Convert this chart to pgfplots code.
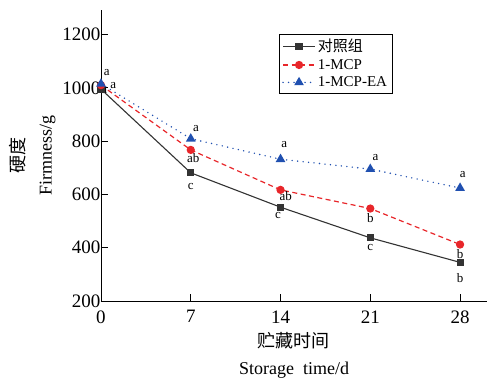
\documentclass[border=0pt]{standalone}
\usepackage{pgfplots}
\pgfplotsset{compat=1.18}
\usepackage{fontspec}
\setmainfont{Liberation Serif}
\newfontfamily\cjk{Noto Sans CJK SC}
\definecolor{cblack}{HTML}{333333}
\definecolor{cred}{HTML}{E8262A}
\definecolor{cblue}{HTML}{2050B0}
\begin{document}
\begin{tikzpicture}[x=1pt,y=1pt]
\begin{axis}[
  at={(0,0)}, anchor=south west,
  scale only axis, width=386pt, height=291pt,
  xmin=0, xmax=30.1, ymin=200, ymax=1292,
  axis x line*=bottom, axis y line*=left,
  xtick={0,7,14,21,28}, ytick={200,400,...,1200},
  major tick length=7pt,
  tick style={black, line width=0.9pt},
  axis line style={black, line width=0.9pt},
  /pgf/number format/assume math mode=true,
  /pgf/number format/1000 sep={},
  ticklabel style={font=\fontsize{19}{20}\selectfont},
  xticklabel style={yshift=-6pt},
  yticklabel style={xshift=3pt},
  xlabel={{\cjk 贮藏时间}\\Storage\ \ time/d},
  xlabel style={font=\fontsize{18}{27}\selectfont, align=center, yshift=-2pt},
  ylabel={{\cjk 硬度}\\Firmness/g},
  ylabel style={font=\fontsize{18}{27}\selectfont, align=center, yshift=0pt},
  legend style={at={(0.461,0.918)}, anchor=north west, draw=black, line width=0.6pt,
    font=\fontsize{15}{17}\selectfont, row sep=2pt, inner xsep=3pt, inner ysep=3pt},
  legend cell align=left,
  legend image code/.code={\draw[mark repeat=2,mark phase=2] plot coordinates {(0pt,0pt) (16pt,0pt) (32pt,0pt)};},
  clip=false,
]
\addplot[cblack, line width=1.1pt, mark=square*, mark size=3pt, mark options={solid}]
  coordinates {(0,995) (7,681) (14,552) (21,437) (28,345)};
\addlegendentry{{\cjk 对照组}}
\addplot[cred, line width=1.2pt, dash pattern=on 5pt off 3.5pt, mark=*, mark size=3.5pt, mark options={solid}]
  coordinates {(0,1010) (7,767) (14,617) (21,547) (28,412)};
\addlegendentry{1-MCP}
\addplot[cblue, line width=1.6pt, line cap=round, dash pattern=on 0pt off 5.5pt, mark=triangle*, mark size=4pt, mark options={solid}]
  coordinates {(0,1015) (7,809) (14,732) (21,695) (28,624)};
\addlegendentry{1-MCP-EA}
\begin{scope}[every node/.style={font=\fontsize{13}{14}\selectfont}]
\node at (axis cs:0.45,1058) {a};
\node at (axis cs:0.95,1010) {a};
\node at (axis cs:0.25,990) {a};
\node at (axis cs:7.4,848) {a};
\node at (axis cs:7.2,735) {ab};
\node at (axis cs:7.0,628) {c};
\node at (axis cs:14.3,789) {a};
\node at (axis cs:14.4,592) {ab};
\node at (axis cs:13.8,519) {c};
\node at (axis cs:21.4,740) {a};
\node at (axis cs:21.0,512) {b};
\node at (axis cs:21.0,399) {c};
\node at (axis cs:28.2,674) {a};
\node at (axis cs:28.0,377) {b};
\node at (axis cs:28.0,287) {b};
\end{scope}
\end{axis}
\pgfresetboundingbox
\path (-101pt,-80pt) rectangle (395pt,301pt);
\end{tikzpicture}
\end{document}
